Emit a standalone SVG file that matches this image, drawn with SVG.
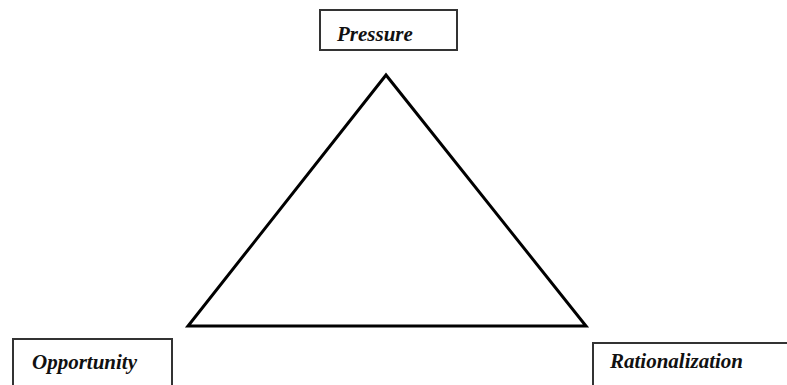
<svg xmlns="http://www.w3.org/2000/svg" width="787" height="385" viewBox="0 0 787 385">
<style>
.box{fill:#fff;stroke:#333;stroke-width:2}
.lbl{font-family:"Liberation Serif",serif;font-style:italic;font-weight:bold;font-size:21px;fill:#111}
.edge{fill:none;stroke:#000;stroke-width:3;stroke-linejoin:miter}
</style>
<rect width="787" height="385" fill="#fff"/>
<g id="connectors">
<polygon class="edge" points="386,75 188,326 586,326"/>
</g>
<g id="pressure">
<rect class="box" x="320" y="10" width="137" height="40"/>
<text class="lbl" x="337" y="41">Pressure</text>
</g>
<g id="opportunity">
<rect class="box" x="13" y="339" width="159" height="60"/>
<text class="lbl" x="32" y="369">Opportunity</text>
</g>
<g id="rationalization">
<rect class="box" x="593" y="343" width="210" height="60"/>
<text class="lbl" x="610" y="368">Rationalization</text>
</g>
</svg>
